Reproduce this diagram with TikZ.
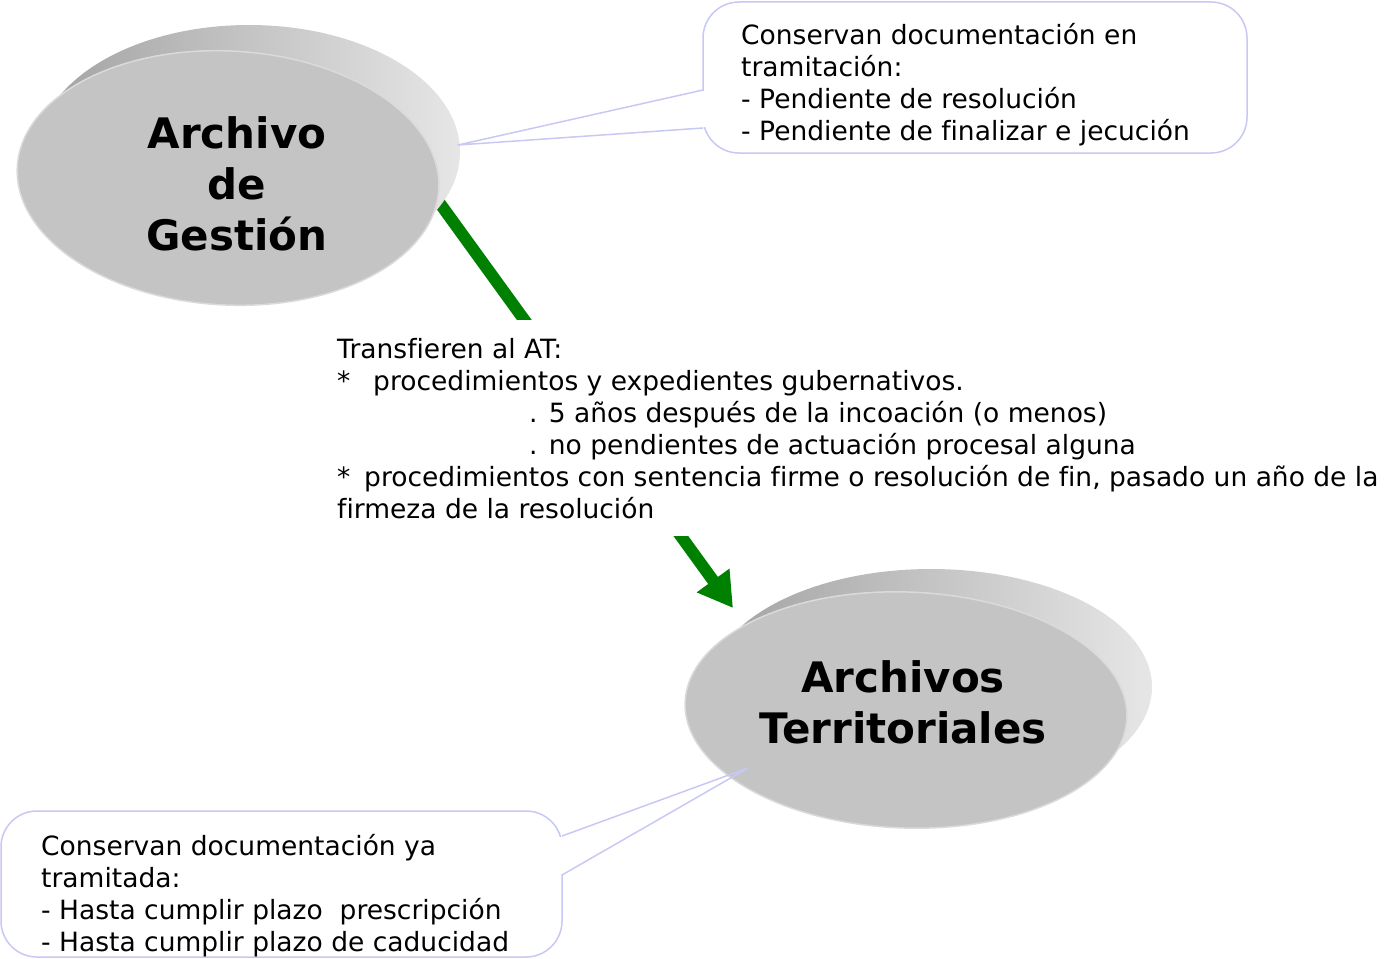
\documentclass[tikz,border=0pt]{standalone}
\usepackage{fontspec}
\setmainfont[Ligatures=NoCommon]{DejaVu Sans}
\usetikzlibrary{arrows.meta,shapes.geometric}
\definecolor{greenarrow}{HTML}{008000}
\definecolor{calloutline}{HTML}{C8C8F4}
\definecolor{discface}{HTML}{C4C4C4}
\definecolor{discrim}{HTML}{DADADA}
\definecolor{discdark}{HTML}{A2A2A2}
\definecolor{disclight}{HTML}{E6E6E6}
\begin{document}
\begin{tikzpicture}[x=1pt,y=-1pt,
  discback/.style={ellipse, inner sep=0pt, outer sep=0pt, left color=discdark, right color=disclight},
  discfront/.style={ellipse, inner sep=0pt, outer sep=0pt, fill=discface, draw=discrim, line width=1.5pt},
  title/.style={font=\fontsize{42}{51}\selectfont\bfseries, inner sep=0pt, anchor=base},
  body/.style={font=\fontsize{26.5}{32}\selectfont, inner sep=0pt, anchor=base west},
  callbox/.style={draw=calloutline, line width=1.5pt, fill=white, rounded corners=36pt},
  callptr/.style={draw=calloutline, line width=1.5pt, line join=round},
  flow/.style={draw=greenarrow, line width=12pt, -{Triangle[length=34pt,width=38pt]}}
]
\useasboundingbox (0,0) rectangle (1399,958);

% green flow arrow (drawn first, partly hidden by discs and text)
\coordinate (a1) at (428,187);
\coordinate (a2) at (733,608);
\draw[flow] (a1) -- (a2);

% Archivo de Gestion disc
\node[discback, minimum width=422pt, minimum height=254pt] (agback) at (249,152) {};
\node[discfront, minimum width=422pt, minimum height=254pt, rotate=-3] (ag) at (228,178) {};
\node[title] (agt) at (237,148) {\begin{tabular}[t]{@{}c@{}}Archivo\\de\\Gestión\end{tabular}};

% Archivos Territoriales disc
\node[discback, minimum width=442pt, minimum height=236pt] (atback) at (931,687) {};
\node[discfront, minimum width=442pt, minimum height=236pt, rotate=-2] (at) at (906,710) {};
\node[title] (att) at (903,692) {\begin{tabular}[t]{@{}c@{}}Archivos\\Territoriales\end{tabular}};

% top callout
\draw[callbox] (703,2) rectangle (1247,153);
\fill[white] (699,91) rectangle (708,127);
\coordinate (c1a) at (703,90);
\coordinate (c1tip) at (458,145);
\coordinate (c1b) at (703,128);
\draw[callptr] (c1a) -- (c1tip) -- (c1b);
\node[body] (c1t) at (741,45) {\begin{tabular}[t]{@{}l@{}}Conservan documentación en\\tramitación:\\- Pendiente de resolución\\- Pendiente de finalizar e jecución\end{tabular}};

% bottom callout
\draw[callbox] (1,811) rectangle (562,957);
\fill[white] (557,837) rectangle (566,874);
\coordinate (c2a) at (562,836);
\coordinate (c2tip) at (748,768);
\coordinate (c2b) at (562,875);
\draw[callptr] (c2a) -- (c2tip) -- (c2b);
\node[body] (c2t) at (41,855) {\begin{tabular}[t]{@{}l@{}}Conservan documentación ya\\tramitada:\\- Hasta cumplir plazo \ prescripción\\- Hasta cumplir plazo de caducidad\end{tabular}};

% transfer text over the arrow
\node[body, fill=white, inner xsep=6pt, inner ysep=8pt] (tx) at (331,358) {\begin{tabular}[t]{@{}l@{}}\rule{0pt}{30pt}Transfieren al AT:\\
\makebox[36pt][l]{*}procedimientos y expedientes gubernativos.\\
\hspace*{192pt}. 5 años después de la incoación (o menos)\\
\hspace*{192pt}. no pendientes de actuación procesal alguna\\
\makebox[27pt][l]{*}procedimientos con sentencia firme o resolución de fin, pasado un año de la\\
firmeza de la resolución\end{tabular}};
\end{tikzpicture}
\end{document}
